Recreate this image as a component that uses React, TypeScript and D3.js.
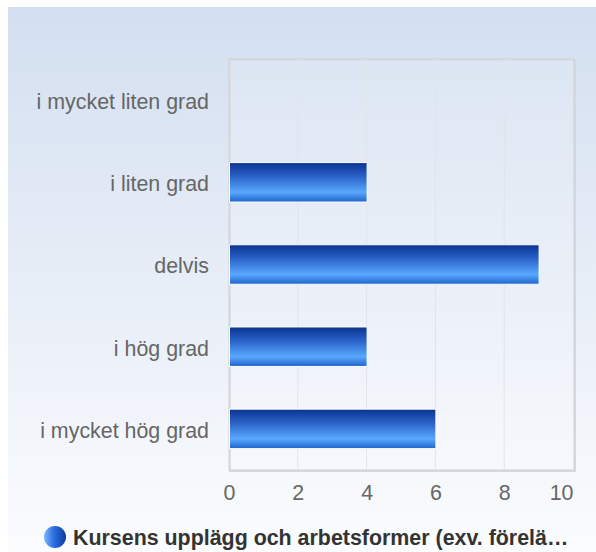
import React, { useEffect, useRef } from 'react';
import * as d3 from 'd3';

const categories = ['i mycket liten grad', 'i liten grad', 'delvis', 'i hög grad', 'i mycket hög grad'];
const values = [0, 4, 9, 4, 6];
const xTicks = [0, 2, 4, 6, 8, 10];
const seriesName = 'Kursens upplägg och arbetsformer (exv. förelä…';

const W = 588;
const H = 545;
const margin = { top: 52, right: 23, bottom: 82, left: 221 };
const FONT = 'Arial, "Liberation Sans", sans-serif';

export default function App() {
  const ref = useRef<SVGSVGElement | null>(null);

  useEffect(() => {
    const svg = d3.select(ref.current);
    svg.selectAll('*').remove();

    const defs = svg.append('defs');
    const bg = defs.append('linearGradient').attr('id', 'bg').attr('x1', 0).attr('y1', 0).attr('x2', 0).attr('y2', 1);
    bg.append('stop').attr('offset', '0%').attr('stop-color', '#d3dff0');
    bg.append('stop').attr('offset', '100%').attr('stop-color', '#fbfcfe');

    const barG = defs.append('linearGradient').attr('id', 'bar').attr('x1', 0).attr('y1', 0).attr('x2', 0).attr('y2', 1);
    barG.append('stop').attr('offset', '0%').attr('stop-color', '#0a3390');
    barG.append('stop').attr('offset', '35%').attr('stop-color', '#2a62c8');
    barG.append('stop').attr('offset', '75%').attr('stop-color', '#5aa8ff');
    barG.append('stop').attr('offset', '100%').attr('stop-color', '#1f64cc');

    const dot = defs.append('linearGradient').attr('id', 'dot').attr('x1', 0).attr('y1', 0).attr('x2', 1).attr('y2', 0);
    dot.append('stop').attr('offset', '0%').attr('stop-color', '#7ab8ff');
    dot.append('stop').attr('offset', '45%').attr('stop-color', '#2a6ee0');
    dot.append('stop').attr('offset', '100%').attr('stop-color', '#0c3b9c');

    svg.append('rect').attr('width', W).attr('height', H).attr('fill', 'url(#bg)');

    const x = d3.scaleLinear().domain([0, 10]).range([margin.left, W - margin.right]);
    const y = d3.scaleBand().domain(categories).range([margin.top, H - margin.bottom]).paddingInner(0.52).paddingOuter(0.26);

    // plot frame
    svg.append('rect')
      .attr('x', margin.left + 1).attr('y', margin.top + 1)
      .attr('width', W - margin.right - margin.left + 1).attr('height', H - margin.bottom - margin.top)
      .attr('fill', 'none').attr('stroke', '#d6d9de').attr('stroke-width', 2);
    svg.append('rect')
      .attr('x', margin.left).attr('y', margin.top)
      .attr('width', W - margin.right - margin.left + 1).attr('height', H - margin.bottom - margin.top)
      .attr('fill', 'rgba(255,255,255,0.15)').attr('stroke', '#cdd0d5').attr('stroke-width', 1);

    svg.append('g')
      .selectAll('line')
      .data(xTicks.slice(1, -1))
      .join('line')
      .attr('x1', d => x(d)).attr('x2', d => x(d))
      .attr('y1', margin.top).attr('y2', H - margin.bottom)
      .attr('stroke', '#e2e4e8').attr('stroke-width', 1);

    svg.append('g')
      .selectAll('rect')
      .data(values)
      .join('rect')
      .attr('x', x(0) + 0.5)
      .attr('y', (d, i) => y(categories[i])!)
      .attr('width', d => Math.max(0, x(d) - x(0)))
      .attr('height', y.bandwidth())
      .attr('fill', 'url(#bar)')
      .attr('stroke', d => (d > 0 ? '#ffffff' : 'none'))
      .attr('stroke-width', 1);

    svg.append('g')
      .attr('transform', `translate(0,${H - margin.bottom})`)
      .call(d3.axisBottom(x).tickValues(xTicks).tickSize(0).tickPadding(15))
      .call(g => g.select('.domain').remove())
      .call(g => g.selectAll('text').attr('fill', '#666').attr('font-size', 21.4).attr('font-family', FONT))
      .call(g => g.selectAll('text').filter((d: any) => d === 10).attr('text-anchor', 'end'));

    svg.append('g')
      .attr('transform', `translate(${margin.left},2)`)
      .call(d3.axisLeft(y).tickSize(0).tickPadding(20))
      .call(g => g.select('.domain').remove())
      .call(g => g.selectAll('text').attr('fill', '#666').attr('font-size', 21.4).attr('font-family', FONT));

    const lg = svg.append('g').attr('transform', `translate(47,${H - 15})`);
    lg.append('circle').attr('cx', 0).attr('cy', 0).attr('r', 11).attr('fill', 'url(#dot)');
    lg.append('text').attr('x', 18).attr('y', 8)
      .attr('fill', '#333').attr('font-size', 21.4).attr('font-weight', 'bold')
      .attr('font-family', FONT)
      .text(seriesName);
  }, []);

  return <svg ref={ref} width={W} height={H} style={{ position: 'absolute', left: 8, top: 7 }} />;
}
